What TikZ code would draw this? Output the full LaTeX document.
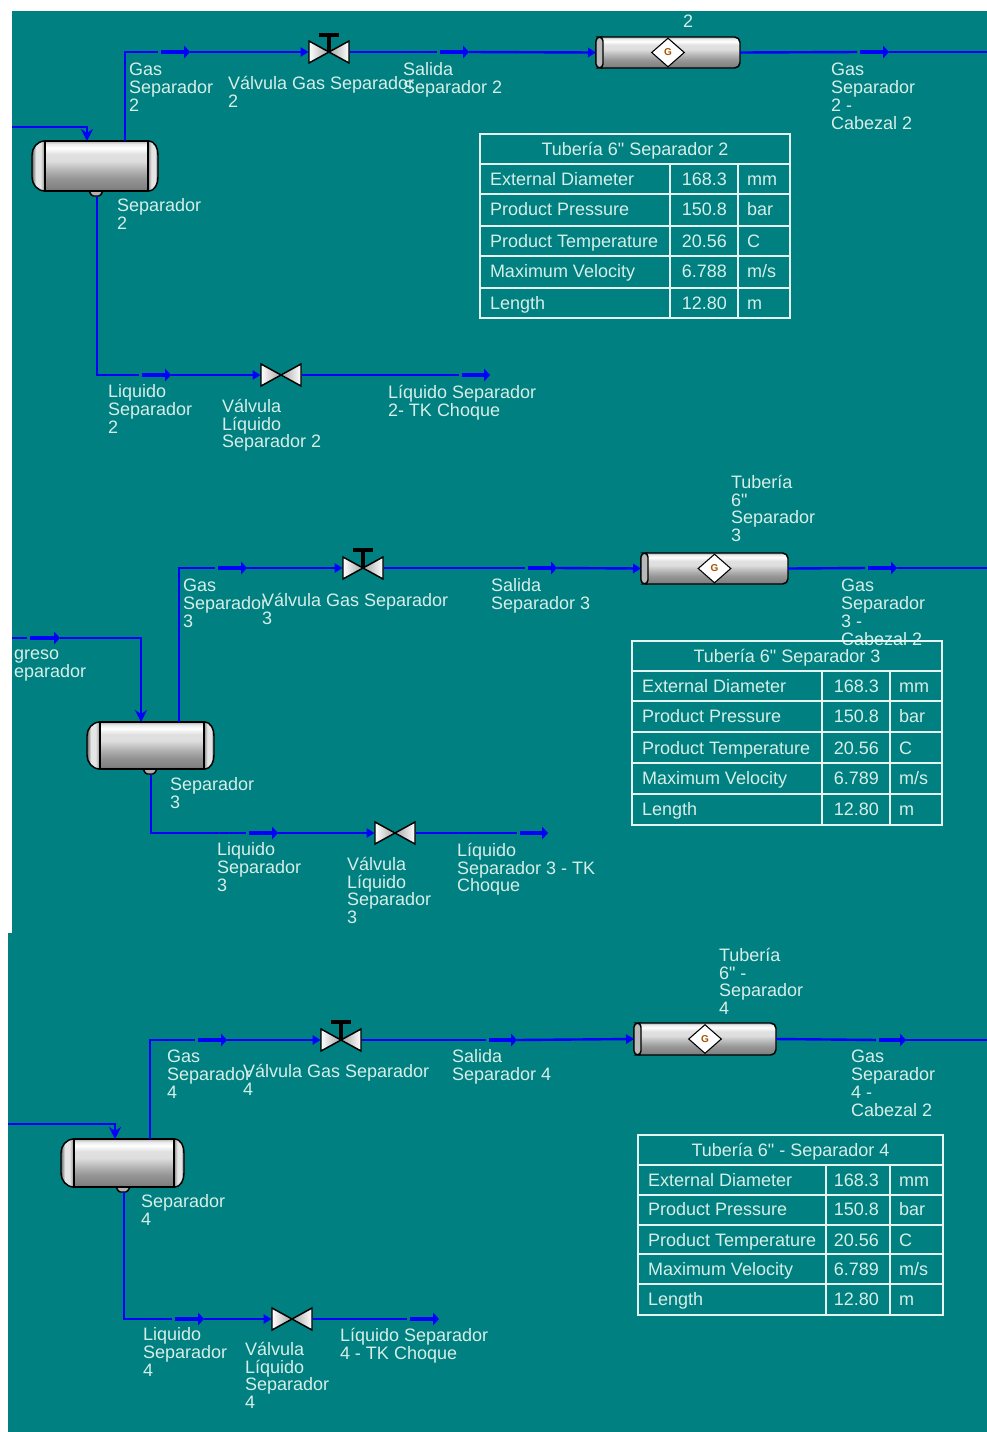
\documentclass[tikz,border=0pt]{standalone}
\usepackage{fontspec}
\newfontfamily\mainf{Liberation Sans}
\usetikzlibrary{arrows.meta,shapes.geometric}
\definecolor{bgteal}{HTML}{008080}
\definecolor{pipeblue}{HTML}{0000FF}
\definecolor{txtpale}{HTML}{D6EEE8}
\definecolor{tblline}{HTML}{E6F4F1}
\def\px{0.75pt}
\pgfdeclareverticalshading{vess}{100bp}{%
 gray(0bp)=(0.45); gray(25bp)=(0.45); gray(29bp)=(0.52); gray(37bp)=(0.58); gray(44bp)=(0.68);
 gray(50bp)=(0.78); gray(55bp)=(0.87); gray(62bp)=(0.88); gray(68bp)=(1); gray(72bp)=(0.92); gray(75bp)=(0.7); gray(100bp)=(0.7)}
\pgfdeclarehorizontalshading{capl}{100bp}{gray(0bp)=(0.4); gray(25bp)=(0.4); gray(40bp)=(0.9); gray(58bp)=(0.9); gray(75bp)=(0.55); gray(100bp)=(0.55)}
\pgfdeclarehorizontalshading{capr}{100bp}{gray(0bp)=(0.55); gray(25bp)=(0.55); gray(42bp)=(0.9); gray(60bp)=(0.9); gray(75bp)=(0.4); gray(100bp)=(0.4)}
\tikzset{
 x=0.75pt,y=-0.75pt,
 pipe/.style={draw=pipeblue,line width=1.8pt},
 pipemk/.style={pipe,shorten >=2.2pt},
 pipein/.style={pipe,-{Triangle[length=6pt,width=7pt]}},
 pipedown/.style={pipe,-{Stealth[length=9pt,width=9pt]}},
 streammark/.style={draw=pipeblue,line width=3.4pt,-{Triangle[length=4.5pt,width=9.5pt]}},
 equip/.style={inner sep=0pt,outer sep=0pt,rectangle},
 lbl/.style={anchor=north west,inner sep=0pt,outer sep=0pt,align=left,text=txtpale,
   font=\mainf\fontsize{13.5}{13.4}\selectfont,execute at begin node={\rule{0pt}{12pt}}},
 celltxt/.style={inner sep=0pt,outer sep=0pt,text=txtpale,font=\mainf\fontsize{13.5}{13.5}\selectfont},
 tbl/.style={draw=tblline,line width=1.1pt},
 outline/.style={draw=black,line width=1.1pt},
}
% separator vessel: name, x0, y0, x1, y1, nozzle x
\newcommand\vesselsym[6]{%
 \node[equip,minimum width={(#4-#2)*\px},minimum height={(#5-#3)*\px}] (#1) at ({(#2+#4)/2},{(#3+#5)/2}) {};
 \path[outline,fill=gray!60,rounded corners=1pt] ({#6-7},#5) -- ({#6+7},#5) -- ({#6+4},{#5+5}) -- ({#6-4},{#5+5}) -- cycle;
 \path[outline,shading=capl] ({#2+13},#3) .. controls ({#2+5},#3) and (#2,{#3+7}) .. (#2,{#3+14}) -- (#2,{#5-14}) .. controls (#2,{#5-7}) and ({#2+5},#5) .. ({#2+13},#5) -- cycle;
 \path[outline,shading=capr] ({#4-10},#3) .. controls ({#4-3},#3) and (#4,{#3+7}) .. (#4,{#3+14}) -- (#4,{#5-14}) .. controls (#4,{#5-7}) and ({#4-3},#5) .. ({#4-10},#5) -- cycle;
 \path[outline,shading=vess] ({#2+13},#3) rectangle ({#4-10},#5);
}
% valve: name, cx, cy
\newcommand\valvesym[3]{%
 \node[equip,minimum width={41*\px},minimum height={22*\px}] (#1) at (#2,#3) {};
 \path[outline,left color=white,right color=gray!70] ({#2-20},{#3-11}) -- (#2,#3) -- ({#2-20},{#3+11}) -- cycle;
 \path[outline,right color=white,left color=gray!70] ({#2+20},{#3-11}) -- (#2,#3) -- ({#2+20},{#3+11}) -- cycle;
}
\newcommand\stemsym[3]{%
 \draw[black,line width=2.4pt] (#1,#2) -- (#1,#3);
 \draw[black,line width=2.4pt] ({#1-10},#3) -- ({#1+10},#3);
}
% pipe segment: name, x0, y0, x1, y1
\newcommand\pipesym[5]{%
 \node[equip,minimum width={(#4-#2)*\px},minimum height={(#5-#3)*\px}] (#1) at ({(#2+#4)/2},{(#3+#5)/2}) {};
 \path[outline,shading=vess,rounded corners=4pt] (#2,#3) rectangle (#4,#5);
 \path[outline,fill=gray!55,rounded corners=3pt] (#2,#3) rectangle ({#2+7},#5);
 \node[diamond,draw=black,line width=0.8pt,fill=white,inner sep=0pt,minimum width={33*\px},minimum height={29*\px}] (#1d) at ({(#2+#4)/2},{(#3+#5)/2}) {};
 \node[inner sep=0pt,text=orange!65!black,font=\mainf\fontsize{7.5}{7.5}\bfseries\selectfont] (#1g) at (#1d) {G};
}
\newcommand\lblsym[4]{\node[lbl] (#1) at (#2,{#3-6.1}) {#4};}
% table frame: id, x0,x1,x2,x3, ytop, ybot, ytitle bottom, title
\newcommand\tablesym[9]{%
 \def\tid{#1}\def\txa{#2}\def\txb{#3}\def\txc{#4}\def\txd{#5}%
 \node[equip,minimum width={(#5-#2)*\px},minimum height={(#7-#6)*\px}] (#1) at ({(#2+#5)/2},{(#6+#7)/2}) {};
 \draw[tbl] (#2,#6) rectangle (#5,#7);
 \node[celltxt,anchor=base] (#1title) at ({(#2+#5)/2},{(#6+#8)/2+6.4}) {#9};
 \draw[tbl] (#3,#8) -- (#3,#7);
 \draw[tbl] (#4,#8) -- (#4,#7);
 \draw[tbl] (#2,#8) -- (#5,#8);
}
% row: key, ycentre, ybottom(0 = none), name, value, unit
\newcommand\rowsym[6]{%
 \node[celltxt,anchor=base west] (\tid#1a) at ({\txa+10},{#2+6.4}) {#4};
 \node[celltxt,anchor=base east] (\tid#1b) at ({\txc-11},{#2+6.4}) {#5};
 \node[celltxt,anchor=base west] (\tid#1c) at ({\txc+9},{#2+6.4}) {#6};
 \ifnum#3>0 \draw[tbl] (\txa,#3) -- (\txd,#3);\fi
}
\begin{document}
\begin{tikzpicture}
\useasboundingbox (0,0) rectangle (987,1432);
\fill[white] (0,0) rectangle (987,1432);
\fill[bgteal] (12,11) -- (987,11) -- (987,1432) -- (8,1432) -- (8,933) -- (12,933) -- cycle;

% ---------- Separador 2 ----------
\coordinate (in2a) at (12,127);
\coordinate (in2b) at (87,141);
\coordinate (g2s) at (125,141);
\coordinate (g2a) at (161,52); \coordinate (g2b) at (190,52);
\coordinate (o2a) at (440,52); \coordinate (o2b) at (469,52);
\coordinate (c2a) at (860,52); \coordinate (c2b) at (889,52);
\coordinate (end2) at (987,52);
\coordinate (l2s) at (97,197);
\coordinate (l2a) at (142,375); \coordinate (l2b) at (171,375);
\coordinate (t2a) at (462,375); \coordinate (t2b) at (490,375);
\vesselsym{vs2}{32}{141}{158}{191}{96}
\valvesym{vg2}{329}{52}
\stemsym{329}{52}{35}
\valvesym{vl2}{281}{375}
\pipesym{ps2}{596}{37}{740}{68}
\draw[pipedown] (in2a) -| (in2b);
\draw[pipemk] (g2s) |- (g2a);
\draw[streammark] (g2a) -- (g2b);
\draw[pipein] (g2b) -- (vg2.west);
\draw[pipemk] (vg2.east) -- (o2a);
\draw[streammark] (o2a) -- (o2b);
\draw[pipein] (o2b) -- (ps2.west);
\draw[pipemk] (ps2.east) -- (c2a);
\draw[streammark] (c2a) -- (c2b);
\draw[pipe] (c2b) -- (end2);
\draw[pipemk] (l2s) |- (l2a);
\draw[streammark] (l2a) -- (l2b);
\draw[pipein] (l2b) -- (vl2.west);
\draw[pipemk] (vl2.east) -- (t2a);
\draw[streammark] (t2a) -- (t2b);
\lblsym{a1}{129}{69}{Gas\\Separador\\2}
\lblsym{a2}{117}{205}{Separador\\2}
\lblsym{a3}{228}{82}{Válvula Gas Separador\\2}
\lblsym{a4}{403}{69}{Salida\\Separador 2}
\lblsym{a5}{683}{18}{2}
\lblsym{a6}{831}{69}{Gas\\Separador\\2 -\\Cabezal 2}
\lblsym{a7}{108}{391}{Liquido\\Separador\\2}
\lblsym{a8}{222}{405}{Válvula\\Líquido\\Separador 2}
\lblsym{a9}{388}{391}{Líquido Separador\\2- TK Choque}
\tablesym{ta}{480}{670}{738}{790}{134}{318}{164}{Tubería 6" Separador 2}
\rowsym{r1}{179}{194}{External Diameter}{168.3}{mm}
\rowsym{r2}{209}{226}{Product Pressure}{150.8}{bar}
\rowsym{r3}{241}{256}{Product Temperature}{20.56}{C}
\rowsym{r4}{271}{288}{Maximum Velocity}{6.788}{m/s}
\rowsym{r5}{303}{0}{Length}{12.80}{m}

% ---------- Separador 3 ----------
\coordinate (in3s) at (12,638);
\coordinate (in3a) at (30,638); \coordinate (in3b) at (60,638);
\coordinate (in3e) at (141,722);
\coordinate (g3s) at (179,722);
\coordinate (g3a) at (218,568); \coordinate (g3b) at (247,568);
\coordinate (o3a) at (528,568); \coordinate (o3b) at (557,568);
\coordinate (c3a) at (868,568); \coordinate (c3b) at (897,568);
\coordinate (end3) at (987,568);
\coordinate (l3s) at (151,775);
\coordinate (l3a) at (249,833); \coordinate (l3b) at (278,833);
\coordinate (t3a) at (520,833); \coordinate (t3b) at (548,833);
\vesselsym{vs3}{87}{722}{214}{769}{150}
\valvesym{vg3}{363}{568}
\stemsym{363}{568}{550}
\valvesym{vl3}{395}{833}
\pipesym{ps3}{641}{553}{788}{584}
\draw[pipemk] (in3s) -- (in3a);
\draw[streammark] (in3a) -- (in3b);
\draw[pipedown] (in3b) -| (in3e);
\draw[pipemk] (g3s) |- (g3a);
\draw[streammark] (g3a) -- (g3b);
\draw[pipein] (g3b) -- (vg3.west);
\draw[pipemk] (vg3.east) -- (o3a);
\draw[streammark] (o3a) -- (o3b);
\draw[pipein] (o3b) -- (ps3.west);
\draw[pipemk] (ps3.east) -- (c3a);
\draw[streammark] (c3a) -- (c3b);
\draw[pipe] (c3b) -- (end3);
\draw[pipemk] (l3s) |- (l3a);
\draw[streammark] (l3a) -- (l3b);
\draw[pipein] (l3b) -- (vl3.west);
\draw[pipemk] (vl3.east) -- (t3a);
\draw[streammark] (t3a) -- (t3b);
\lblsym{b0}{14}{656}{greso\\eparador}
\lblsym{b1}{183}{585}{Gas\\Separador\\3}
\lblsym{b2}{170}{784}{Separador\\3}
\lblsym{b3}{262}{599}{Válvula Gas Separador\\3}
\lblsym{b4}{491}{585}{Salida\\Separador 3}
\lblsym{b5}{731}{481}{Tubería\\6"\\Separador\\3}
\lblsym{b6}{841}{585}{Gas\\Separador\\3 -\\Cabezal 2}
\lblsym{b7}{217}{849}{Liquido\\Separador\\3}
\lblsym{b8}{347}{863}{Válvula\\Líquido\\Separador\\3}
\lblsym{b9}{457}{849}{Líquido\\Separador 3 - TK\\Choque}
\tablesym{tb}{632}{822}{890}{942}{641}{825}{671}{Tubería 6" Separador 3}
\rowsym{r1}{686}{701}{External Diameter}{168.3}{mm}
\rowsym{r2}{716}{732}{Product Pressure}{150.8}{bar}
\rowsym{r3}{748}{763}{Product Temperature}{20.56}{C}
\rowsym{r4}{778}{794}{Maximum Velocity}{6.789}{m/s}
\rowsym{r5}{809}{0}{Length}{12.80}{m}

% ---------- Separador 4 ----------
\coordinate (in4a) at (8,1124);
\coordinate (in4b) at (115,1139);
\coordinate (g4s) at (150,1139);
\coordinate (g4a) at (198,1040); \coordinate (g4b) at (227,1040);
\coordinate (o4a) at (489,1040); \coordinate (o4b) at (517,1040);
\coordinate (c4a) at (879,1040); \coordinate (c4b) at (906,1040);
\coordinate (end4) at (987,1040);
\coordinate (l4s) at (124,1192);
\coordinate (l4a) at (175,1319); \coordinate (l4b) at (204,1319);
\coordinate (t4a) at (410,1319); \coordinate (t4b) at (439,1319);
\vesselsym{vs4}{61}{1139}{184}{1187}{123}
\valvesym{vg4}{341}{1040}
\stemsym{341}{1040}{1022}
\valvesym{vl4}{292}{1319}
\pipesym{ps4}{634}{1023}{776}{1055}
\draw[pipedown] (in4a) -| (in4b);
\draw[pipemk] (g4s) |- (g4a);
\draw[streammark] (g4a) -- (g4b);
\draw[pipein] (g4b) -- (vg4.west);
\draw[pipemk] (vg4.east) -- (o4a);
\draw[streammark] (o4a) -- (o4b);
\draw[pipein] (o4b) -- (ps4.west);
\draw[pipemk] (ps4.east) -- (c4a);
\draw[streammark] (c4a) -- (c4b);
\draw[pipe] (c4b) -- (end4);
\draw[pipemk] (l4s) |- (l4a);
\draw[streammark] (l4a) -- (l4b);
\draw[pipein] (l4b) -- (vl4.west);
\draw[pipemk] (vl4.east) -- (t4a);
\draw[streammark] (t4a) -- (t4b);
\lblsym{c1}{167}{1056}{Gas\\Separador\\4}
\lblsym{c2}{141}{1201}{Separador\\4}
\lblsym{c3}{243}{1070}{Válvula Gas Separador\\4}
\lblsym{c4}{452}{1056}{Salida\\Separador 4}
\lblsym{c5}{719}{954}{Tubería\\6" -\\Separador\\4}
\lblsym{c6}{851}{1056}{Gas\\Separador\\4 -\\Cabezal 2}
\lblsym{c7}{143}{1334}{Liquido\\Separador\\4}
\lblsym{c8}{245}{1348}{Válvula\\Líquido\\Separador\\4}
\lblsym{c9}{340}{1334}{Líquido Separador\\4 - TK Choque}
\tablesym{tc}{638}{826}{890}{943}{1135}{1315}{1165}{Tubería 6" - Separador 4}
\rowsym{r1}{1180}{1195}{External Diameter}{168.3}{mm}
\rowsym{r2}{1209}{1225}{Product Pressure}{150.8}{bar}
\rowsym{r3}{1240}{1254}{Product Temperature}{20.56}{C}
\rowsym{r4}{1269}{1284}{Maximum Velocity}{6.789}{m/s}
\rowsym{r5}{1299}{0}{Length}{12.80}{m}
\end{tikzpicture}
\end{document}
